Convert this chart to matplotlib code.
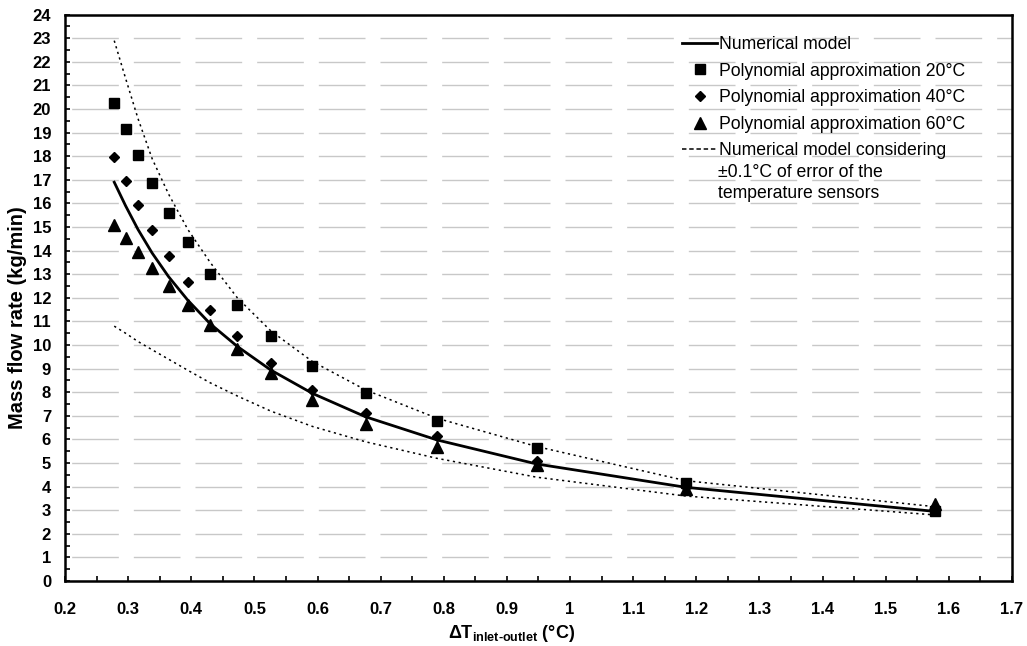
import numpy as np
import matplotlib
matplotlib.use("Agg")
import matplotlib.pyplot as plt
from matplotlib.lines import Line2D

# ------------------------------ Data ------------------------------
dT = [0.278, 0.296, 0.3156, 0.338, 0.364, 0.3945, 0.430, 0.473,
      0.526, 0.592, 0.676, 0.789, 0.947, 1.1835, 1.578]

numerical = [16.9, 15.9, 14.9, 13.9, 12.9, 11.9, 10.9, 9.94,
             8.94, 7.95, 6.96, 5.98, 4.96, 3.97, 2.95]
upper_err = [22.9, 21.3, 19.6, 17.9, 16.4, 14.9, 13.5, 12.0,
             10.6, 9.3, 8.1, 6.9, 5.7, 4.25, 3.15]
lower_err = [10.8, 10.5, 10.15, 9.8, 9.4, 8.93, 8.4, 7.84,
             7.2, 6.55, 5.9, 5.2, 4.4, 3.6, 2.8]

poly20 = [20.25, 19.17, 18.04, 16.86, 15.6, 14.37, 13.0, 11.7,
          10.4, 9.1, 7.95, 6.8, 5.65, 4.15, 2.95]
poly40 = [17.96, 16.95, 15.95, 14.88, 13.78, 12.67, 11.5, 10.4,
          9.25, 8.1, 7.1, 6.15, 5.1, 4.0, 3.0]
poly60 = [15.1, 14.55, 13.95, 13.25, 12.5, 11.7, 10.85, 9.85,
          8.8, 7.65, 6.65, 5.7, 4.9, 3.9, 3.25]

x_ticks = np.arange(0.2, 1.71, 0.1)
x_labels = ["0.2", "0.3", "0.4", "0.5", "0.6", "0.7", "0.8", "0.9",
            "1", "1.1", "1.2", "1.3", "1.4", "1.5", "1.6", "1.7"]
y_ticks = np.arange(0, 25, 1)

# --------------------------- Style ---------------------------
plt.rcParams['font.family'] = ['Liberation Sans', 'DejaVu Sans']
plt.rcParams['lines.scale_dashes'] = False
plt.rcParams['mathtext.fontset'] = 'custom'
plt.rcParams['mathtext.rm'] = 'Liberation Sans'
plt.rcParams['mathtext.bf'] = 'Liberation Sans:bold'
plt.rcParams['mathtext.it'] = 'Liberation Sans:italic'

fig = plt.figure(figsize=(10.27, 6.46), dpi=100)
ax = fig.add_axes([65/1027, 65/646, 947/1027, 566.3/646])

ax.set_xlim(0.2, 1.7)
ax.set_ylim(0, 24)

# gridlines (long grey dashes)
ax.set_yticks(y_ticks)
ax.yaxis.grid(True, color='#c8c8c8', lw=1.0, linestyle=(39.6, (33.6, 10.8)))
ax.set_axisbelow(True)

# --------------------------- Series ---------------------------
ax.plot(dT, upper_err, color='black', lw=1.1, ls=(0, (1.6, 2.6)), zorder=3)
ax.plot(dT, lower_err, color='black', lw=1.1, ls=(0, (1.6, 2.6)), zorder=3)
ax.plot(dT, poly20, 's', color='black', ms=7.9, zorder=4)
ax.plot(dT, poly40, 'D', color='black', ms=5.4, zorder=4)
ax.plot(dT, poly60, '^', color='black', ms=8.6, zorder=4)
ax.plot(dT, numerical, color='black', lw=2.0, zorder=5)

# --------------------------- Axes ---------------------------
ax.set_xticks(x_ticks)
ax.set_xticklabels(x_labels)
ax.set_xticks(np.arange(0.25, 1.7, 0.1), minor=True)
ax.set_yticks(np.arange(0.5, 24, 1), minor=True)
ax.tick_params(which='both', direction='in', length=3.5, width=1.2,
               top=False, right=False)
ax.tick_params(axis='x', which='major', pad=15, labelsize=12)
ax.tick_params(axis='y', which='major', pad=10, labelsize=12)
for lab in ax.get_xticklabels() + ax.get_yticklabels():
    lab.set_fontweight('bold')
for sp in ax.spines.values():
    sp.set_linewidth(1.8)

ax.set_ylabel("Mass flow rate (kg/min)", fontsize=14.5, fontweight='bold')
ax.yaxis.set_label_coords(-0.04, 0.465)
ax.set_xlabel(r"$\mathbf{\Delta T_{inlet‐outlet}}$ (°C)", fontsize=13, fontweight='bold')
ax.xaxis.set_label_coords((512-65)/947, -0.074)

# --------------------------- Legend ---------------------------
handles = [
    Line2D([], [], color='black', lw=2.0),
    Line2D([], [], ls='none', marker='s', color='black', ms=7.9),
    Line2D([], [], ls='none', marker='D', color='black', ms=5.4),
    Line2D([], [], ls='none', marker='^', color='black', ms=8.6),
    Line2D([], [], color='black', lw=1.1, ls=(0, (3.2, 2.0))),
]
labels = ["Numerical model",
          "Polynomial approximation 20°C",
          "Polynomial approximation 40°C",
          "Polynomial approximation 60°C",
          "Numerical model considering"]
leg = ax.legend(handles, labels, loc='upper left', frameon=False,
                bbox_to_anchor=(682/1027, 1 - 36/646), bbox_transform=fig.transFigure,
                fontsize=12.7, handlelength=2.0, handletextpad=0.1,
                labelspacing=0.545, borderpad=0, borderaxespad=0)
# continuation of the last legend entry
fig.text(718/1027, 1 - 176.7/646, "±0.1°C of error of the",
         fontsize=12.7, ha='left', va='baseline')
fig.text(718/1027, 1 - 198.3/646, "temperature sensors",
         fontsize=12.7, ha='left', va='baseline')

fig.savefig("out.png", dpi=100)
